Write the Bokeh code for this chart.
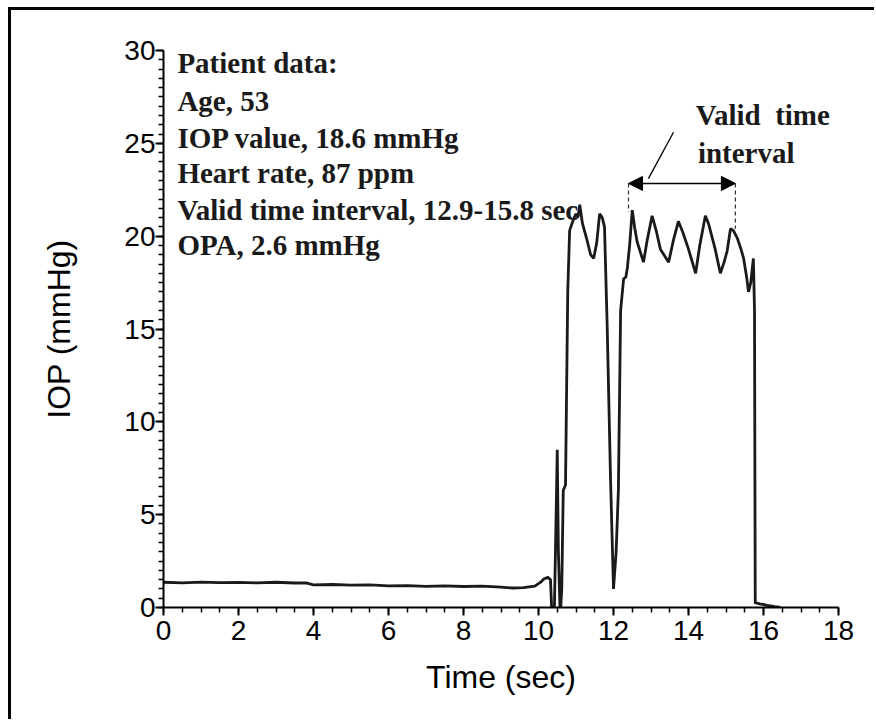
from bokeh.plotting import figure
from bokeh.models import ColumnDataSource, Range1d, Arrow, NormalHead, FixedTicker
from bokeh.core.properties import value
from bokeh.embed import file_html
from bokeh.resources import INLINE

# ---- data ----
time_s = [0, 0.5, 1, 1.5, 2, 2.5, 3, 3.5, 3.8, 4.0, 4.5, 5, 5.5, 6, 6.5, 7, 7.5, 8, 8.5, 9,
          9.3, 9.6, 9.9, 10.05, 10.15, 10.25, 10.32, 10.36, 10.42, 10.47, 10.5, 10.53, 10.58,
          10.62, 10.66, 10.72, 10.78, 10.83, 10.93, 11.0, 11.05, 11.1, 11.17, 11.28, 11.39,
          11.47, 11.55, 11.63, 11.7, 11.76, 11.83, 11.92, 12.0, 12.07, 12.13, 12.19, 12.27,
          12.33, 12.37, 12.43, 12.5, 12.57, 12.63, 12.8, 12.9, 13.03, 13.15, 13.25, 13.47,
          13.6, 13.73, 13.85, 14.0, 14.19, 14.3, 14.45, 14.53, 14.7, 14.85, 14.95, 15.03,
          15.12, 15.2, 15.3, 15.4, 15.47, 15.55, 15.6, 15.66, 15.73, 15.76, 15.78, 15.8,
          15.9, 16.1, 16.3, 16.45]
iop_mmhg = [1.36, 1.33, 1.37, 1.34, 1.35, 1.33, 1.36, 1.32, 1.33, 1.22, 1.24, 1.2, 1.22, 1.17,
            1.18, 1.14, 1.16, 1.13, 1.15, 1.1, 1.05, 1.07, 1.15, 1.35, 1.55, 1.62, 1.5, -0.5,
            -0.5, 5.0, 8.5, 3.0, -0.5, 1.0, 6.3, 6.6, 17.0, 20.3, 20.9, 21.2, 21.0, 21.7, 20.7,
            19.9, 19.0, 18.8, 19.6, 21.2, 21.0, 20.5, 15.3, 7.0, 1.0, 3.0, 6.3, 16.0, 17.7,
            17.8, 18.3, 19.5, 21.4, 20.4, 19.7, 18.6, 19.8, 21.1, 20.2, 19.3, 18.6, 19.8, 20.8,
            20.2, 19.3, 18.0, 19.5, 21.1, 20.7, 19.4, 18.0, 18.6, 19.2, 20.4, 20.3, 19.9, 19.3,
            18.8, 17.8, 17.0, 17.5, 18.8, 16.0, 0.22, 0.25, 0.2, 0.12, 0.05, 0.0]

x_ticks = [0, 2, 4, 6, 8, 10, 12, 14, 16, 18]
y_ticks = [0, 5, 10, 15, 20, 25, 30]

info_lines = ["Patient data:", "Age, 53", "IOP value, 18.6 mmHg", "Heart rate, 87 ppm",
              "Valid time interval, 12.9-15.8 sec", "OPA, 2.6 mmHg"]
info_x = [0.37] * 6
info_y = [29.3, 27.3, 25.3, 23.4, 21.4, 19.5]

note_lines = ["Valid\u00a0 time", "interval"]
note_x = [14.19, 14.25]
note_y = [26.5, 24.5]

interval_start = 12.4
interval_end = 15.25
arrow_level = 22.84
dash_bottom = [21.3, 20.4]
pointer_x = [13.6, 12.93]
pointer_y = [25.6, 23.1]

# ---- figure ----
p = figure(frame_width=675, frame_height=557, output_backend="svg", toolbar_location=None,
           x_range=Range1d(0, 18), y_range=Range1d(0, 30),
           min_border_left=152, min_border_top=40, min_border_right=36, min_border_bottom=112,
           x_axis_label="Time (sec)", y_axis_label="IOP (mmHg)")
p.styles = {"margin-left": "8px", "margin-top": "7px",
            "border-left": "3px solid black", "border-top": "3px solid black"}
p.grid.visible = False
p.outline_line_color = None
p.background_fill_color = "white"
p.border_fill_color = "white"

for ax in (p.xaxis[0], p.yaxis[0]):
    ax.axis_line_width = 2
    ax.axis_line_color = "black"
    ax.major_tick_line_width = 2
    ax.minor_tick_line_width = 1.5
    ax.major_tick_in = 0
    ax.major_tick_out = 8
    ax.minor_tick_in = 0
    ax.minor_tick_out = 5
    ax.major_label_text_font = "Liberation Sans"
    ax.major_label_text_font_size = "28px"
    ax.major_label_text_color = "black"
    ax.axis_label_text_font = "Liberation Sans"
    ax.axis_label_text_font_size = "32px"
    ax.axis_label_text_font_style = "normal"
    ax.axis_label_text_color = "black"

p.xaxis[0].ticker = FixedTicker(ticks=x_ticks, minor_ticks=[i * 0.5 for i in range(37)])
p.yaxis[0].ticker = FixedTicker(ticks=y_ticks, minor_ticks=[i * 0.5 for i in range(61)])
p.xaxis[0].major_label_standoff = 5
p.yaxis[0].major_label_standoff = 0
p.xaxis[0].axis_label_standoff = 16
p.yaxis[0].axis_label_standoff = 44

src = ColumnDataSource(dict(t=time_s, y=iop_mmhg))
p.line("t", "y", source=src, line_color="#1a1a1a", line_width=2.8)

# text blocks
p.text(x=info_x, y=info_y, text=info_lines, text_font=value("Liberation Serif"),
       text_font_style="bold", text_font_size="29px", text_color="#1a1a1a",
       text_baseline="middle", text_align="left")
p.text(x=note_x, y=note_y, text=note_lines, text_font=value("Liberation Serif"),
       text_font_style="bold", text_font_size="29px", text_color="#1a1a1a",
       text_baseline="middle", text_align="left")

# valid interval annotation
p.add_layout(Arrow(x_start=interval_start, y_start=arrow_level, x_end=interval_end, y_end=arrow_level,
                   line_width=1.5, line_color="black",
                   start=NormalHead(size=14, fill_color="black", line_color="black"),
                   end=NormalHead(size=14, fill_color="black", line_color="black")))
p.segment(x0=[interval_start, interval_end], y0=[arrow_level, arrow_level],
          x1=[interval_start, interval_end], y1=dash_bottom,
          line_color="#333333", line_width=1.2, line_dash="4 3")
p.line(x=pointer_x, y=pointer_y, line_color="black", line_width=1.3)

open("out.html", "w").write(file_html(p, INLINE))
